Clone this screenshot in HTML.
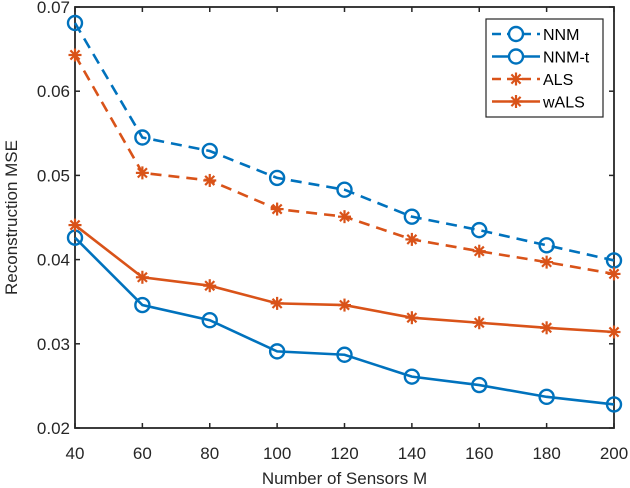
<!DOCTYPE html>
<html><head><meta charset="utf-8"><style>
body{margin:0;background:#fff;}
svg{display:block;font-family:"Liberation Sans",sans-serif;}
</style></head><body>
<svg id="chart" width="630" height="488"></svg>
<script>
const categories=[40,60,80,100,120,140,160,180,200];
const nnm=[0.0681,0.0545,0.0529,0.0497,0.0483,0.0451,0.0435,0.0417,0.0399];
const nnmt=[0.0426,0.0346,0.0328,0.0291,0.0287,0.0261,0.0251,0.0237,0.0228];
const als=[0.0643,0.0503,0.0494,0.0460,0.0451,0.0424,0.0410,0.0397,0.0383];
const wals=[0.0441,0.0379,0.0369,0.0348,0.0346,0.0331,0.0325,0.0319,0.0314];
const yTicks=[0.02,0.03,0.04,0.05,0.06,0.07];
const yTickLabels=["0.02","0.03","0.04","0.05","0.06","0.07"];
const xTickLabels=["40","60","80","100","120","140","160","180","200"];

const L=75,R=614,T=7,B=428;
const svg=document.getElementById('chart');
const NS='http://www.w3.org/2000/svg';
function X(v){return L+(v-40)/(200-40)*(R-L);}
function Y(v){return B-(v-0.02)/(0.07-0.02)*(B-T);}
function el(tag,attrs,parent){const e=document.createElementNS(NS,tag);for(const k in attrs)e.setAttribute(k,attrs[k]);(parent||svg).appendChild(e);return e;}
const BLUE='#0072BD',ORANGE='#D95319',AX='#262626';

categories.forEach((c,i)=>{
  const x=X(c);
  const t1=el('line',{x1:x,x2:x,y1:B,y2:B-5,stroke:AX,'stroke-width':1.5});
  
  
  const t2=el('line',{x1:x,x2:x,y1:T,y2:T+5,stroke:AX,'stroke-width':1.5});
  
  
  const lb=el('text',{x:x,y:B+31,'text-anchor':'middle','font-size':17,fill:AX});
  lb.textContent=xTickLabels[i];
  
  
});
yTicks.forEach((v,i)=>{
  const y=Y(v);
  const t1=el('line',{x1:L,x2:L+5,y1:y,y2:y,stroke:AX,'stroke-width':1.5});
  
  
  const t2=el('line',{x1:R,x2:R-5,y1:y,y2:y,stroke:AX,'stroke-width':1.5});
  
  
  const lb=el('text',{x:L-5,y:y+6,'text-anchor':'end','font-size':17,fill:AX});
  lb.textContent=yTickLabels[i];
  
  
});
const frame=el('rect',{x:L,y:T,width:R-L,height:B-T,fill:'none',stroke:AX,'stroke-width':1.8});



const xt=el('text',{x:(L+R)/2,y:484,'text-anchor':'middle','font-size':17,fill:AX});
xt.textContent='Number of Sensors M';


const yt=el('text',{x:0,y:0,'text-anchor':'middle','font-size':17,fill:AX,transform:'translate(17,'+((T+B)/2)+') rotate(-90)'});
yt.textContent='Reconstruction MSE';



function star(g,x,y,c){
  const r=6.5;
  for(let a=0;a<4;a++){
    const ang=a*Math.PI/4;
    el('line',{x1:x-r*Math.cos(ang),y1:y-r*Math.sin(ang),x2:x+r*Math.cos(ang),y2:y+r*Math.sin(ang),stroke:c,'stroke-width':2.2},g);
  }
}
function series(vals,color,dash,marker,name){
  const g=el('g',{});
  
  
  const pts=vals.map((v,i)=>X(categories[i])+','+Y(v)).join(' ');
  el('polyline',{points:pts,fill:'none',stroke:color,'stroke-width':2.6,'stroke-dasharray':dash?'11,7':'none'},g);
  vals.forEach((v,i)=>{
    const x=X(categories[i]),y=Y(v);
    if(marker==='o'){el('circle',{cx:x,cy:y,r:7,fill:'none',stroke:color,'stroke-width':2.4},g);}
    else star(g,x,y,color);
  });
}
series(nnm,BLUE,true,'o','series-nnm');
series(nnmt,BLUE,false,'o','series-nnm-t');
series(als,ORANGE,true,'*','series-als');
series(wals,ORANGE,false,'*','series-wals');

const lg=el('g',{});


el('rect',{x:486,y:19,width:117,height:98,fill:'#fff',stroke:AX,'stroke-width':1.2},lg);
const items=[['NNM',BLUE,true,'o'],['NNM-t',BLUE,false,'o'],['ALS',ORANGE,true,'*'],['wALS',ORANGE,false,'*']];
items.forEach((it,i)=>{
  const y=34+i*22.5;
  const g=el('g',{},lg);
  
  
  el('line',{x1:492,x2:540,y1:y,y2:y,stroke:it[1],'stroke-width':2.6,'stroke-dasharray':it[2]?'9,6':'none'},g);
  if(it[3]==='o')el('circle',{cx:516,cy:y,r:7,fill:'#fff',stroke:it[1],'stroke-width':2.4},g);
  else star(g,516,y,it[1]);
  const t=el('text',{x:543,y:y+6,'font-size':16,fill:'#000'},g);
  t.textContent=it[0];
});
</script>
</body></html>
